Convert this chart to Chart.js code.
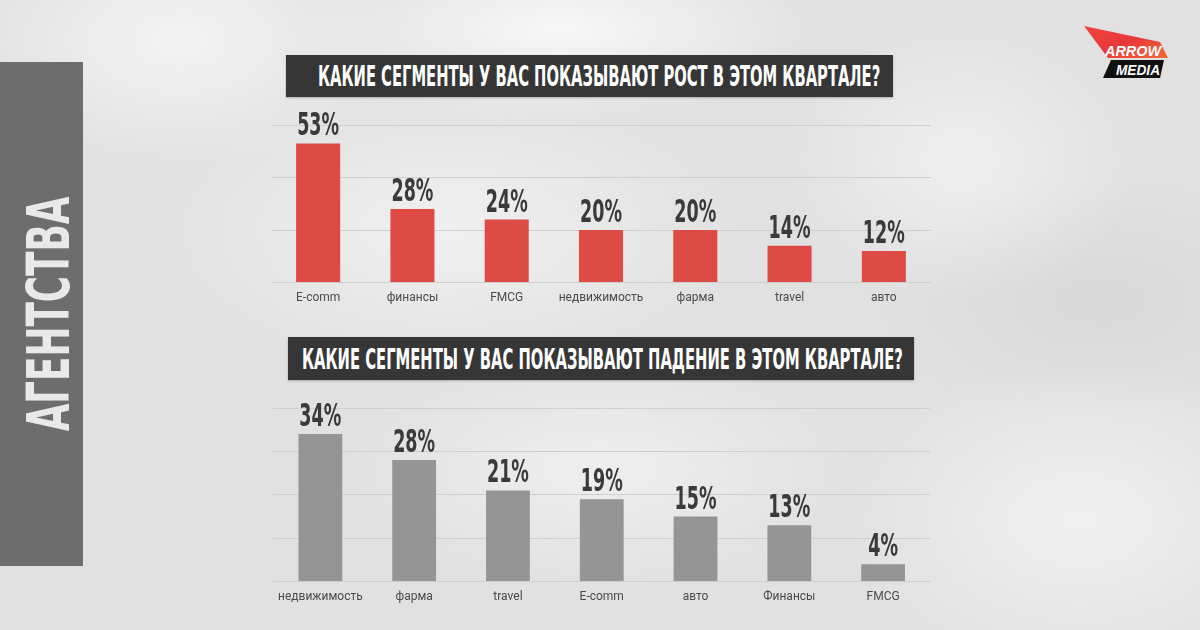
<!DOCTYPE html>
<html>
<head>
<meta charset="utf-8">
<script src="https://cdn.jsdelivr.net/npm/chart.js@4"></script>
<style>
  html, body { margin: 0; padding: 0; }
  body {
    width: 1200px; height: 630px; position: relative; overflow: hidden;
    background-color: #e1e1e1;
    background-image:
      radial-gradient(ellipse 260px 90px at 560px 30px, rgba(255,255,255,0.75), rgba(255,255,255,0)),
      radial-gradient(ellipse 220px 130px at 180px 40px, rgba(255,255,255,0.6), rgba(255,255,255,0)),
      radial-gradient(ellipse 180px 140px at 960px 160px, rgba(255,255,255,0.45), rgba(255,255,255,0)),
      radial-gradient(ellipse 300px 150px at 450px 230px, rgba(255,255,255,0.5), rgba(255,255,255,0)),
      radial-gradient(ellipse 260px 120px at 600px 470px, rgba(255,255,255,0.45), rgba(255,255,255,0)),
      radial-gradient(ellipse 240px 160px at 1080px 520px, rgba(255,255,255,0.5), rgba(255,255,255,0)),
      radial-gradient(ellipse 220px 120px at 1100px 300px, rgba(200,200,200,0.35), rgba(200,200,200,0));
    font-family: Roboto, "Liberation Sans", sans-serif;
  }
  .banner {
    position: absolute; left: 0; top: 62px; width: 83px; height: 504px;
    background: #6d6d6d;
  }
  .banner span {
    position: absolute; left: calc(50% + 7px); top: 50%;
    font-family: "Liberation Sans Narrow", "DejaVu Sans Condensed", sans-serif;
    font-weight: bold; font-size: 58px; color: #e9e9e9; white-space: nowrap; line-height: 1;
  }
  .title {
    position: absolute; background: #363636;
    box-shadow: 0 1px 2px rgba(0,0,0,0.25);
  }
  .title span {
    position: absolute; top: 50%; white-space: nowrap; line-height: 1;
    font-family: "Liberation Sans Narrow", "DejaVu Sans Condensed", sans-serif;
    font-weight: bold; font-size: 29px; color: #ffffff;
  }
  canvas { position: absolute; }
  #logo { position: absolute; left: 1078px; top: 20px; }
</style>
</head>
<body>

<div class="banner"><span id="bannerText">АГЕНТСТВА</span></div>

<svg id="logo" width="100" height="62" viewBox="0 0 100 62">
  <defs>
    <linearGradient id="redGrad" x1="0" y1="0" x2="1" y2="1">
      <stop offset="0" stop-color="#f0453d"/>
      <stop offset="0.5" stop-color="#e8383a"/>
      <stop offset="1" stop-color="#f26a3a"/>
    </linearGradient>
  </defs>
  <polygon points="6,6 82,22 90,38 30,38" fill="url(#redGrad)"/>
  <polygon points="33,40 86,40 82,58 25,58" fill="#111111"/>
  <text x="27" y="36" font-family="Liberation Sans, Arial, sans-serif" font-weight="bold" font-style="italic" font-size="15" fill="#ffffff" textLength="56" lengthAdjust="spacingAndGlyphs">ARROW</text>
  <text x="38" y="55" font-family="Liberation Sans, Arial, sans-serif" font-weight="bold" font-style="italic" font-size="15" fill="#ffffff" textLength="44" lengthAdjust="spacingAndGlyphs">MEDIA</text>
</svg>

<div class="title" style="left:286px; top:55px; width:607px; height:42px;">
  <span id="title1" data-left="32" data-width="562">КАКИЕ СЕГМЕНТЫ У ВАС ПОКАЗЫВАЮТ РОСТ В ЭТОМ КВАРТАЛЕ?</span>
</div>
<div class="title" style="left:288px; top:337px; width:626px; height:43px;">
  <span id="title2" data-left="14" data-width="601">КАКИЕ СЕГМЕНТЫ У ВАС ПОКАЗЫВАЮТ ПАДЕНИЕ В ЭТОМ КВАРТАЛЕ?</span>
</div>

<canvas id="growthChart" width="660" height="213" style="left:271px; top:100px;"></canvas>
<canvas id="declineChart" width="660" height="227" style="left:270px; top:385px;"></canvas>

<script>
// Data
const growthLabels = ['E-comm', 'финансы', 'FMCG', 'недвижимость', 'фарма', 'travel', 'авто'];
const growthValues = [53, 28, 24, 20, 20, 14, 12];
const growthTicks = [0, 20, 40, 60];

const declineLabels = ['недвижимость', 'фарма', 'travel', 'E-comm', 'авто', 'Финансы', 'FMCG'];
const declineValues = [34, 28, 21, 19, 15, 13, 4];
const declineTicks = [0, 10, 20, 30, 40];

// squeeze a text span to a given width (condensed look)
function fitSpan(el, width, left, rotate) {
  const w = el.offsetWidth;
  const k = width / w;
  if (rotate) {
    el.style.transform = 'translate(-50%, -50%) rotate(-90deg) scaleX(' + k + ')';
  } else {
    el.style.left = left + 'px';
    el.style.transformOrigin = '0 50%';
    el.style.transform = 'translateY(-50%) scaleX(' + k + ')';
  }
}

// value labels above each bar, drawn from the bar elements
const valueLabels = {
  id: 'valueLabels',
  afterDatasetsDraw(chart) {
    const ctx = chart.ctx;
    const meta = chart.getDatasetMeta(0);
    const data = chart.data.datasets[0].data;
    ctx.save();
    ctx.fillStyle = '#3a3a3a';
    ctx.font = 'bold 32px "Liberation Sans Narrow", "DejaVu Sans Condensed", sans-serif';
    ctx.textAlign = 'center';
    ctx.textBaseline = 'alphabetic';
    // condense so that a two-digit label is about 42px wide
    const k = 42 / ctx.measureText('00%').width;
    meta.data.forEach((bar, i) => {
      ctx.save();
      ctx.translate(bar.x, bar.y - 8);
      ctx.scale(k, 1);
      ctx.fillText(data[i] + '%', 0, 0);
      ctx.restore();
    });
    ctx.restore();
  }
};

function makeChart(id, labels, values, ticks, color, padTop) {
  return new Chart(document.getElementById(id), {
    type: 'bar',
    data: {
      labels,
      datasets: [{ data: values, backgroundColor: color, barPercentage: 0.467, categoryPercentage: 1 }]
    },
    options: {
      responsive: false,
      animation: false,
      layout: { padding: { top: padTop, left: 0, right: 0, bottom: 0 } },
      plugins: { legend: { display: false }, tooltip: { enabled: false } },
      scales: {
        x: {
          grid: { display: false, drawTicks: false },
          border: { display: false },
          ticks: { color: '#4a4a4a', padding: 8, font: { size: 12, family: 'Roboto' }, maxRotation: 0, autoSkip: false }
        },
        y: {
          min: ticks[0],
          max: ticks[ticks.length - 1],
          ticks: { display: false, stepSize: ticks[1] - ticks[0] },
          grid: { color: '#cfcfcf', lineWidth: 1, drawTicks: false },
          border: { display: false }
        }
      }
    },
    plugins: [valueLabels]
  });
}

document.addEventListener('DOMContentLoaded', () => {
  const t1 = document.getElementById('title1');
  const t2 = document.getElementById('title2');
  fitSpan(t1, +t1.dataset.width, +t1.dataset.left);
  fitSpan(t2, +t2.dataset.width, +t2.dataset.left);
  fitSpan(document.getElementById('bannerText'), 235, 0, true);

  makeChart('growthChart', growthLabels, growthValues, growthTicks, '#dd4b44', 25);
  makeChart('declineChart', declineLabels, declineValues, declineTicks, '#959595', 23);
});
</script>
</body>
</html>
